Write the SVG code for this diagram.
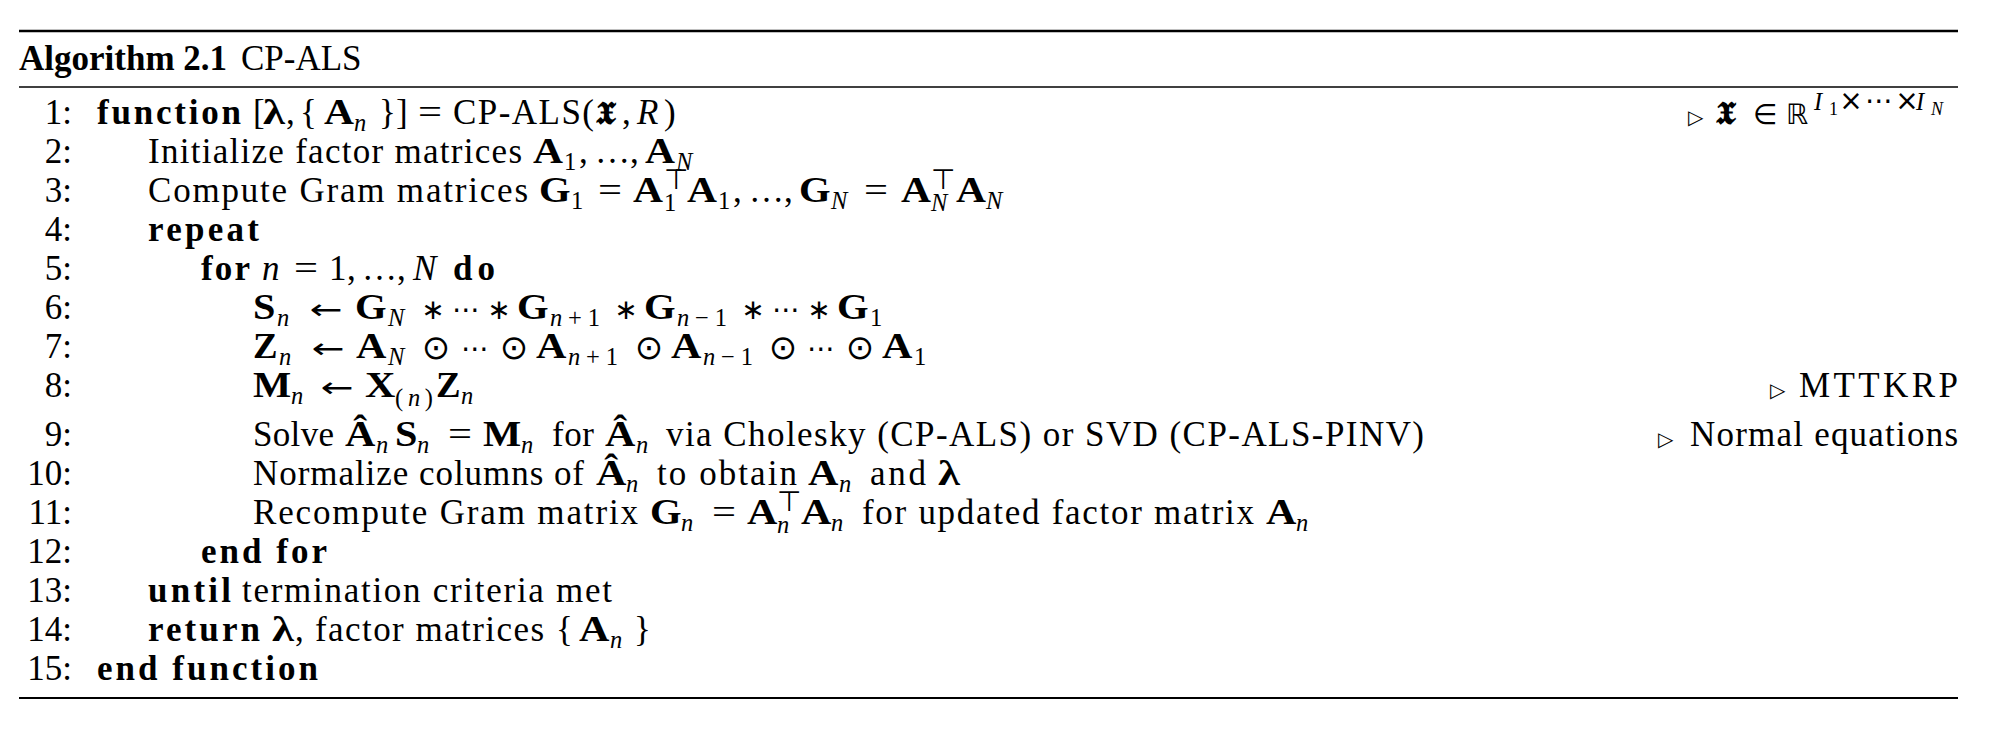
<svg xmlns="http://www.w3.org/2000/svg" width="2014" height="734" viewBox="0 0 2014 734">
<style>
.t{font-family:"Liberation Serif","Times New Roman",serif;font-size:35px;fill:#000}
.b{font-weight:bold}
.i{font-style:italic}
.s{font-size:24.5px}
.ss{font-size:18px}
.c{text-anchor:middle}
.sy{font-family:"DejaVu Sans",sans-serif;font-size:28px;fill:#000}
.od{font-family:"DejaVu Sans",sans-serif;font-size:34px;fill:#000;text-anchor:middle}
.tri{font-family:"DejaVu Sans",sans-serif;font-size:20px;fill:#000}
.fk{font-family:"DejaVu Serif","DejaVu Sans","Noto Sans",serif;font-size:32px;font-weight:bold;fill:#000}
.num{font-family:"Liberation Serif","Times New Roman",serif;font-size:35px;fill:#000;text-anchor:end}
.rule{stroke:#000;fill:none}
</style>
<rect width="2014" height="734" fill="#fff"/>
<g id="rules">
<line class="rule" x1="19" y1="31" x2="1958" y2="31" stroke-width="2.6"/>
<line class="rule" x1="19" y1="87" x2="1958" y2="87" stroke-width="1.6"/>
<line class="rule" x1="19" y1="698" x2="1958" y2="698" stroke-width="1.8"/>
</g>
<g id="title">
<text class="t b" x="19" y="70" font-size="38">Algorithm 2.1</text>
<text class="t" x="241" y="70" font-size="38">CP-ALS</text>
</g>
<g id="linenumbers">
<text class="num" x="72" y="124">1:</text>
<text class="num" x="72" y="163">2:</text>
<text class="num" x="72" y="202">3:</text>
<text class="num" x="72" y="241">4:</text>
<text class="num" x="72" y="280">5:</text>
<text class="num" x="72" y="319">6:</text>
<text class="num" x="72" y="358">7:</text>
<text class="num" x="72" y="397">8:</text>
<text class="num" x="72" y="446">9:</text>
<text class="num" x="72" y="485">10:</text>
<text class="num" x="72" y="524">11:</text>
<text class="num" x="72" y="563">12:</text>
<text class="num" x="72" y="602">13:</text>
<text class="num" x="72" y="641">14:</text>
<text class="num" x="72" y="680">15:</text>
</g>
<g id="line1">
<text class="t b" x="97" y="124" textLength="144">function</text>
<text class="t" x="253" y="124">[</text>
<text class="t b" x="263" y="124" textLength="22" lengthAdjust="spacingAndGlyphs">λ</text>
<text class="t" x="286" y="124">,</text>
<text class="t" x="300" y="124">{</text>
<text class="t b" x="324" y="124" textLength="30" lengthAdjust="spacingAndGlyphs">A</text>
<text class="t s i" x="354" y="131">n</text>
<text class="t" x="379" y="124">}</text>
<text class="t" x="396" y="124">]</text>
<text class="t c" x="430" y="124" textLength="24" lengthAdjust="spacingAndGlyphs">=</text>
<text class="t" x="453" y="124" textLength="141">CP-ALS(</text>
<text class="fk" x="596" y="124">𝖃</text>
<text class="t" x="622" y="124">,</text>
<text class="t i" x="637" y="124">R</text>
<text class="t" x="664" y="124">)</text>
<text class="tri" x="1688" y="124">▷</text>
<text class="fk" x="1716" y="124">𝖃</text>
<text class="sy" x="1753" y="124" font-size="30">∈</text>
<text class="sy" x="1786" y="124" font-size="32">ℝ</text>
<text class="t s i" x="1814" y="110">I</text>
<text class="t ss" x="1829" y="115">1</text>
<text class="sy c" x="1851" y="110" font-size="22">×</text>
<text class="sy c" x="1879" y="110" font-size="30">⋯</text>
<text class="sy c" x="1907" y="110" font-size="22">×</text>
<text class="t s i" x="1916" y="110">I</text>
<text class="t ss i" x="1931" y="115">N</text>
</g>
<g id="line2">
<text class="t" x="148" y="163" textLength="374">Initialize factor matrices</text>
<text class="t b" x="533" y="163" textLength="30" lengthAdjust="spacingAndGlyphs">A</text>
<text class="t s" x="564" y="170">1</text>
<text class="t" x="579" y="163">,</text>
<text class="t" x="595" y="163" font-size="30">…</text>
<text class="t" x="630" y="163">,</text>
<text class="t b" x="645" y="163" textLength="30" lengthAdjust="spacingAndGlyphs">A</text>
<text class="t s i" x="676" y="170">N</text>
</g>
<g id="line3">
<text class="t" x="148" y="202" textLength="380">Compute Gram matrices</text>
<text class="t b" x="539" y="202" textLength="31.6" lengthAdjust="spacingAndGlyphs">G</text>
<text class="t s" x="571" y="209">1</text>
<text class="t c" x="610" y="202" textLength="24" lengthAdjust="spacingAndGlyphs">=</text>
<text class="t b" x="633" y="202" textLength="30" lengthAdjust="spacingAndGlyphs">A</text>
<text class="sy" x="664" y="189" font-size="19">⊤</text>
<text class="t s" x="664" y="211">1</text>
<text class="t b" x="687" y="202" textLength="30" lengthAdjust="spacingAndGlyphs">A</text>
<text class="t s" x="718" y="209">1</text>
<text class="t" x="733" y="202">,</text>
<text class="t" x="749" y="202" font-size="30">…</text>
<text class="t" x="784" y="202">,</text>
<text class="t b" x="799" y="202" textLength="31.6" lengthAdjust="spacingAndGlyphs">G</text>
<text class="t s i" x="831" y="209">N</text>
<text class="t c" x="876" y="202" textLength="24" lengthAdjust="spacingAndGlyphs">=</text>
<text class="t b" x="901" y="202" textLength="30" lengthAdjust="spacingAndGlyphs">A</text>
<text class="sy" x="931" y="189" font-size="19">⊤</text>
<text class="t s i" x="931" y="211">N</text>
<text class="t b" x="956" y="202" textLength="30" lengthAdjust="spacingAndGlyphs">A</text>
<text class="t s i" x="986" y="209">N</text>
</g>
<g id="line4">
<text class="t b" x="148" y="241" textLength="111">repeat</text>
</g>
<g id="line5">
<text class="t b" x="201" y="280" textLength="49">for</text>
<text class="t i" x="262" y="280">n</text>
<text class="t c" x="306" y="280" textLength="24" lengthAdjust="spacingAndGlyphs">=</text>
<text class="t" x="329" y="280">1</text>
<text class="t" x="347" y="280">,</text>
<text class="t" x="362" y="280" font-size="30">…</text>
<text class="t" x="397" y="280">,</text>
<text class="t i" x="413" y="280">N</text>
<text class="t b" x="453" y="280" textLength="42">do</text>
</g>
<g id="line6">
<text class="t b" x="253" y="319" textLength="22.4" lengthAdjust="spacingAndGlyphs">S</text>
<text class="t s i" x="277" y="326">n</text>
<text class="sy c" x="326" y="319" font-size="35" textLength="33" lengthAdjust="spacingAndGlyphs">←</text>
<text class="t b" x="355" y="319" textLength="31.6" lengthAdjust="spacingAndGlyphs">G</text>
<text class="t s i" x="388" y="326">N</text>
<text class="sy c" x="433" y="319">∗</text>
<text class="sy c" x="466" y="319" font-size="30">⋯</text>
<text class="sy c" x="499" y="319">∗</text>
<text class="t b" x="517" y="319" textLength="31.6" lengthAdjust="spacingAndGlyphs">G</text>
<text class="t s" x="550" y="326" textLength="50"><tspan class="i">n</tspan>+1</text>
<text class="sy c" x="626" y="319">∗</text>
<text class="t b" x="644" y="319" textLength="31.6" lengthAdjust="spacingAndGlyphs">G</text>
<text class="t s" x="677" y="326" textLength="50"><tspan class="i">n</tspan>−1</text>
<text class="sy c" x="753" y="319">∗</text>
<text class="sy c" x="786" y="319" font-size="30">⋯</text>
<text class="sy c" x="819" y="319">∗</text>
<text class="t b" x="837" y="319" textLength="31.6" lengthAdjust="spacingAndGlyphs">G</text>
<text class="t s" x="870" y="326">1</text>
</g>
<g id="line7">
<text class="t b" x="253" y="358" textLength="24.6" lengthAdjust="spacingAndGlyphs">Z</text>
<text class="t s i" x="279" y="365">n</text>
<text class="sy c" x="328" y="358" font-size="35" textLength="33" lengthAdjust="spacingAndGlyphs">←</text>
<text class="t b" x="356" y="358" textLength="30.4" lengthAdjust="spacingAndGlyphs">A</text>
<text class="t s i" x="388" y="365">N</text>
<text class="od" x="436" y="359">⊙</text>
<text class="sy c" x="475" y="358" font-size="30">⋯</text>
<text class="od" x="514" y="359">⊙</text>
<text class="t b" x="536" y="358" textLength="30.4" lengthAdjust="spacingAndGlyphs">A</text>
<text class="t s" x="568" y="365" textLength="50"><tspan class="i">n</tspan>+1</text>
<text class="od" x="649" y="359">⊙</text>
<text class="t b" x="671" y="358" textLength="30.4" lengthAdjust="spacingAndGlyphs">A</text>
<text class="t s" x="703" y="365" textLength="50"><tspan class="i">n</tspan>−1</text>
<text class="od" x="783" y="359">⊙</text>
<text class="sy c" x="821" y="358" font-size="30">⋯</text>
<text class="od" x="860" y="359">⊙</text>
<text class="t b" x="882" y="358" textLength="30.4" lengthAdjust="spacingAndGlyphs">A</text>
<text class="t s" x="914" y="365">1</text>
</g>
<g id="line8">
<text class="t b" x="253" y="397" textLength="38.2" lengthAdjust="spacingAndGlyphs">M</text>
<text class="t s i" x="291" y="404">n</text>
<text class="sy c" x="337" y="397" font-size="35" textLength="33" lengthAdjust="spacingAndGlyphs">←</text>
<text class="t b" x="365" y="397" textLength="30.4" lengthAdjust="spacingAndGlyphs">X</text>
<text class="t s" x="395" y="406" textLength="38">(<tspan class="i">n</tspan>)</text>
<text class="t b" x="436" y="397" textLength="24.6" lengthAdjust="spacingAndGlyphs">Z</text>
<text class="t s i" x="461" y="404">n</text>
<text class="tri" x="1770" y="397">▷</text>
<text class="t" x="1799" y="397" textLength="159">MTTKRP</text>
</g>
<g id="line9">
<text class="t" x="253" y="446" textLength="81">Solve</text>
<text class="t b" x="345" y="446" textLength="30.4" lengthAdjust="spacingAndGlyphs">Â</text>
<text class="t s i" x="376" y="453">n</text>
<text class="t b" x="395" y="446" textLength="22.4" lengthAdjust="spacingAndGlyphs">S</text>
<text class="t s i" x="417" y="453">n</text>
<text class="t c" x="460" y="446" textLength="24" lengthAdjust="spacingAndGlyphs">=</text>
<text class="t b" x="483" y="446" textLength="38.2" lengthAdjust="spacingAndGlyphs">M</text>
<text class="t s i" x="521" y="453">n</text>
<text class="t" x="552" y="446" textLength="42">for</text>
<text class="t b" x="605" y="446" textLength="30.4" lengthAdjust="spacingAndGlyphs">Â</text>
<text class="t s i" x="636" y="453">n</text>
<text class="t" x="666" y="446" textLength="758">via Cholesky (CP-ALS) or SVD (CP-ALS-PINV)</text>
<text class="tri" x="1658" y="446">▷</text>
<text class="t" x="1690" y="446" textLength="268">Normal equations</text>
</g>
<g id="line10">
<text class="t" x="253" y="485" textLength="331">Normalize columns of</text>
<text class="t b" x="596" y="485" textLength="30.4" lengthAdjust="spacingAndGlyphs">Â</text>
<text class="t s i" x="626" y="492">n</text>
<text class="t" x="657" y="485" textLength="140">to obtain</text>
<text class="t b" x="808" y="485" textLength="30.4" lengthAdjust="spacingAndGlyphs">A</text>
<text class="t s i" x="839" y="492">n</text>
<text class="t" x="870" y="485" textLength="56">and</text>
<text class="t b" x="938" y="485" textLength="22" lengthAdjust="spacingAndGlyphs">λ</text>
</g>
<g id="line11">
<text class="t" x="253" y="524" textLength="385">Recompute Gram matrix</text>
<text class="t b" x="650" y="524" textLength="31.6" lengthAdjust="spacingAndGlyphs">G</text>
<text class="t s i" x="681" y="531">n</text>
<text class="t c" x="724" y="524" textLength="24" lengthAdjust="spacingAndGlyphs">=</text>
<text class="t b" x="747" y="524" textLength="30.4" lengthAdjust="spacingAndGlyphs">A</text>
<text class="sy" x="777" y="511" font-size="19">⊤</text>
<text class="t s i" x="777" y="533">n</text>
<text class="t b" x="801" y="524" textLength="30.4" lengthAdjust="spacingAndGlyphs">A</text>
<text class="t s i" x="831" y="531">n</text>
<text class="t" x="862" y="524" textLength="392">for updated factor matrix</text>
<text class="t b" x="1266" y="524" textLength="30.4" lengthAdjust="spacingAndGlyphs">A</text>
<text class="t s i" x="1296" y="531">n</text>
</g>
<g id="line12">
<text class="t b" x="201" y="563" textLength="126">end for</text>
</g>
<g id="line13">
<text class="t b" x="148" y="602" textLength="83">until</text>
<text class="t" x="242" y="602" textLength="370">termination criteria met</text>
</g>
<g id="line14">
<text class="t b" x="148" y="641" textLength="112">return</text>
<text class="t b" x="272" y="641" textLength="22" lengthAdjust="spacingAndGlyphs">λ</text>
<text class="t" x="295" y="641">,</text>
<text class="t" x="315" y="641" textLength="229">factor matrices</text>
<text class="t" x="556" y="641">{</text>
<text class="t b" x="579" y="641" textLength="30.4" lengthAdjust="spacingAndGlyphs">A</text>
<text class="t s i" x="610" y="648">n</text>
<text class="t" x="634" y="641">}</text>
</g>
<g id="line15">
<text class="t b" x="97" y="680" textLength="221">end function</text>
</g>
</svg>
